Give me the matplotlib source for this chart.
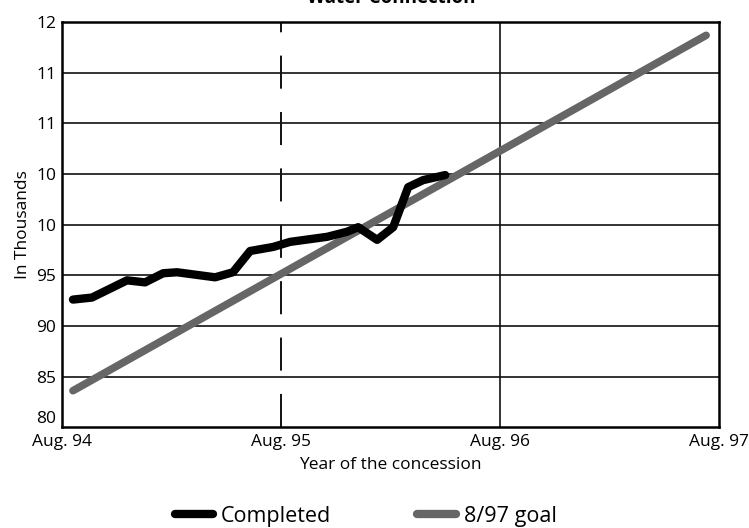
import matplotlib
matplotlib.use("Agg")
import matplotlib.pyplot as plt
from matplotlib.lines import Line2D

plt.rcParams['font.family'] = ['Open Sans', 'DejaVu Sans']

# months since Aug. 94, connections in thousands
done_month = [0.6, 1.64, 3.56, 4.55, 5.54, 6.3, 8.39, 9.37, 10.31, 11.57, 12.5,
              14.53, 15.62, 16.23, 17.27, 18.15, 18.97, 19.79, 21.0]
done_value = [92.6, 92.8, 94.5, 94.3, 95.2, 95.3, 94.8, 95.3, 97.4, 97.8, 98.3,
              98.8, 99.3, 99.75, 98.5, 99.75, 103.7, 104.4, 104.9]
goal_month = [0.6, 35.3]
goal_value = [83.6, 118.7]

xticks = [0, 12, 24, 36]
xlabels = ['Aug. 94', 'Aug. 95', 'Aug. 96', 'Aug. 97']
yticks = [80, 85, 90, 95, 100, 105, 110, 115, 120]
ylabels = ['80', '85', '90', '95', '10', '10', '11', '11', '12']

fig = plt.figure(figsize=(7.49, 5.28), dpi=100)
ax = fig.add_axes([0.0828, 0.191, 0.877, 0.767])

ax.set_xlim(0, 36)
ax.set_ylim(80, 120)

for y in yticks[1:-1]:
    ax.axhline(y, color='#111111', lw=1.2, zorder=1)
ax.axvline(24, color='#111111', lw=1.2, zorder=1)
ax.axvline(12, color='#111111', lw=1.4, dashes=(17, 12), zorder=1)

goal_color = '#666666'
ax.plot(goal_month, goal_value, color=goal_color, lw=5.5, solid_capstyle='round', zorder=2)
ax.plot(done_month, done_value, color='black', lw=6, solid_capstyle='round',
        solid_joinstyle='round', zorder=3)

ax.set_xticks(xticks)
ax.set_xticklabels(xlabels, fontsize=12.5)
ax.set_yticks(yticks)
ax.set_yticklabels(ylabels, fontsize=12.5)
ax.get_yticklabels()[0].set_va('bottom')  # keep "80" clear of the date labels
ax.tick_params(axis='x', length=0, pad=5)
ax.tick_params(axis='y', length=0, pad=4)
for s in ax.spines.values():
    s.set_linewidth(1.8)
    s.set_color('black')

ax.set_xlabel('Year of the concession', fontsize=12.5, labelpad=5)
ax.set_ylabel('In Thousands', fontsize=12.5, labelpad=4)

fig.text(0.523, 1.004, 'Water Connection', fontsize=13.5, fontweight='bold',
         ha='center', va='center')

handles = [Line2D([], [], color='black', lw=6, solid_capstyle='round'),
           Line2D([], [], color=goal_color, lw=6, solid_capstyle='round')]
fig.legend(handles, ['Completed', '8/97 goal'], loc='lower center',
           bbox_to_anchor=(0.488, -0.034), ncol=2, frameon=False, fontsize=15.5,
           handlelength=1.8, handletextpad=0.35, columnspacing=4.0)

fig.savefig('out.png', dpi=100)
